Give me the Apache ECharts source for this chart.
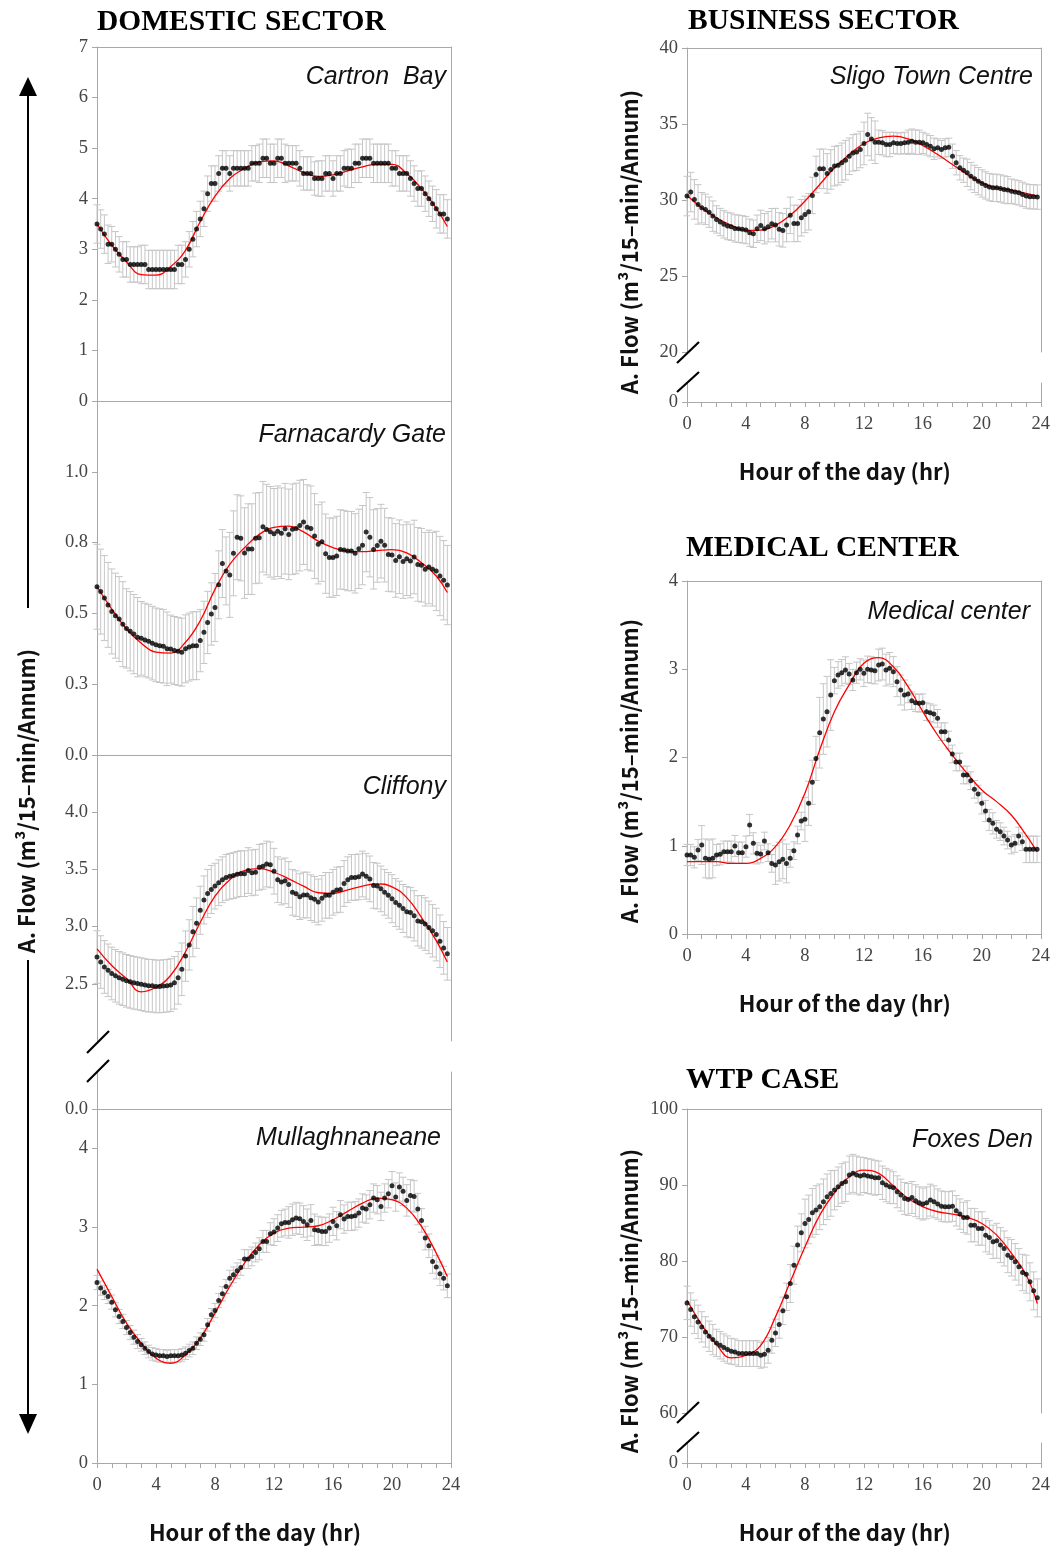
<!DOCTYPE html>
<html>
<head>
<meta charset="utf-8">
<title>Daily flow patterns</title>
<script src="https://cdn.jsdelivr.net/npm/echarts@6/dist/echarts.min.js"></script>
<style>
  html, body { margin: 0; padding: 0; background: #fff; }
  #chart { width: 1053px; height: 1549px; }
</style>
</head>
<body>
<div id="chart"></div>
<script>
// ---- data ----
var sectorTitles = ['DOMESTIC SECTOR', 'BUSINESS SECTOR', 'MEDICAL CENTER', 'WTP CASE'];
var siteNames = ['Cartron  Bay', 'Farnacardy Gate', 'Cliffony', 'Mullaghnaneane',
                 'Sligo Town Centre', 'Medical center', 'Foxes Den'];
var yName = 'A. Flow (m³/15–min/Annum)';
var xName = 'Hour of the day (hr)';

var hourTicks = [0, 4, 8, 12, 16, 20, 24];
var fitHours = [0,1,2,3,4,5,6,7,8,9,10,11,12,13,14,15,16,17,18,19,20,21,22,23,23.75];

// tick labels per panel
var cartronTicks = [0, 1, 2, 3, 4, 5, 6, 7];
var farnaTicks = [0, 0.25, 0.5, 0.75, 1.0];
var cliffTicks = [2.5, 3.0, 3.5, 4.0];
var breakZeroTicks = [0];
var mullaTicks = [0, 1, 2, 3, 4];
var sligoTicks = [20, 25, 30, 35, 40];
var medTicks = [0, 1, 2, 3, 4];
var foxTicks = [60, 70, 80, 90, 100];

// 15-min mean flows (96 per day), hourly error half-widths, fitted curve
var cartronMean = [3.5,3.4,3.3,3.1,3.1,3.0,2.9,2.8,2.8,2.7,
  2.7,2.7,2.7,2.7,2.6,2.6,2.6,2.6,2.6,2.6,
  2.6,2.6,2.7,2.7,2.8,3.0,3.2,3.4,3.6,3.8,
  4.1,4.3,4.3,4.5,4.6,4.6,4.5,4.6,4.6,4.6,
  4.6,4.6,4.7,4.7,4.7,4.8,4.8,4.7,4.7,4.8,
  4.8,4.7,4.7,4.7,4.7,4.6,4.5,4.5,4.5,4.4,
  4.4,4.4,4.5,4.5,4.4,4.5,4.5,4.6,4.6,4.6,
  4.7,4.7,4.8,4.8,4.8,4.7,4.7,4.7,4.7,4.7,
  4.6,4.6,4.5,4.5,4.5,4.4,4.3,4.2,4.2,4.1,
  4.0,3.9,3.8,3.7,3.7,3.6];
var cartronErr = [0.38,0.35,0.35,0.38,0.38,0.38,0.35,0.35,0.35,0.35,0.35,0.38,
  0.38,0.35,0.33,0.35,0.35,0.38,0.38,0.38,0.35,0.35,0.35,0.38];
var cartronFit = [3.5,3.08,2.75,2.5,2.49,2.66,2.98,3.55,4.05,4.4,4.6,4.73,4.75,
  4.65,4.52,4.44,4.47,4.55,4.63,4.68,4.68,4.5,4.2,3.81,3.45];

var farnaMean = [0.594,0.577,0.554,0.530,0.507,0.492,0.48,0.462,0.447,0.437,
  0.427,0.416,0.412,0.406,0.402,0.395,0.389,0.386,0.384,0.375,
  0.374,0.369,0.366,0.363,0.375,0.381,0.386,0.386,0.404,0.433,
  0.468,0.498,0.521,0.601,0.676,0.65,0.636,0.712,0.769,0.765,
  0.713,0.727,0.727,0.765,0.767,0.806,0.796,0.788,0.781,0.79,
  0.783,0.799,0.779,0.797,0.8,0.81,0.823,0.804,0.8,0.773,
  0.744,0.753,0.711,0.697,0.697,0.703,0.726,0.724,0.72,0.72,
  0.712,0.728,0.741,0.787,0.769,0.726,0.74,0.755,0.741,0.708,
  0.706,0.687,0.7,0.683,0.693,0.685,0.699,0.673,0.67,0.656,
  0.664,0.656,0.65,0.632,0.617,0.6];
var farnaErr = [0.15,0.15,0.14,0.13,0.13,0.12,0.12,0.11,0.12,0.15,0.16,0.16,
  0.16,0.16,0.15,0.14,0.14,0.14,0.14,0.13,0.13,0.13,0.13,0.14];
var farnaFit = [0.594,0.515,0.445,0.395,0.363,0.36,0.398,0.474,0.585,0.673,0.732,0.779,
  0.804,0.808,0.788,0.755,0.732,0.72,0.718,0.722,0.725,0.714,0.679,0.632,0.574];

var cliffMean = [2.734,2.69,2.647,2.618,2.59,2.57,2.552,2.54,2.526,2.517,
  2.509,2.503,2.497,2.489,2.483,2.483,2.477,2.477,2.48,2.483,
  2.489,2.509,2.552,2.627,2.742,2.84,2.956,3.03,3.143,3.233,
  3.29,3.325,3.354,3.383,3.41,3.43,3.44,3.446,3.457,3.463,
  3.463,3.49,3.47,3.475,3.518,3.527,3.547,3.54,3.484,3.41,
  3.39,3.40,3.368,3.30,3.288,3.262,3.276,3.276,3.253,3.238,
  3.215,3.247,3.273,3.273,3.30,3.32,3.325,3.377,3.41,3.43,
  3.43,3.435,3.46,3.44,3.417,3.36,3.354,3.33,3.30,3.273,
  3.244,3.21,3.187,3.158,3.13,3.123,3.094,3.05,3.042,3.022,
  2.993,2.964,2.93,2.872,2.814,2.762];
var cliffErr = [0.23,0.23,0.23,0.23,0.23,0.23,0.22,0.21,0.2,0.2,0.2,0.2,
  0.2,0.2,0.2,0.2,0.2,0.2,0.2,0.2,0.21,0.22,0.23,0.23];
var cliffFit = [2.806,2.66,2.546,2.43,2.47,2.575,2.78,3.036,3.267,3.41,3.49,3.507,
  3.475,3.417,3.354,3.296,3.29,3.32,3.354,3.374,3.348,3.253,3.08,2.878,2.69];

var mullaMean = [2.295,2.223,2.168,2.117,2.045,1.947,1.862,1.799,1.722,1.659,
  1.6,1.544,1.502,1.459,1.417,1.387,1.374,1.362,1.362,1.353,
  1.362,1.362,1.362,1.374,1.396,1.43,1.459,1.523,1.574,1.629,
  1.756,1.883,1.938,2.066,2.151,2.244,2.35,2.392,2.443,2.486,
  2.592,2.592,2.626,2.677,2.723,2.817,2.817,2.914,2.935,2.986,
  3.041,3.058,3.058,3.092,3.114,3.105,3.071,3.029,3.084,2.965,
  2.957,2.944,2.944,2.986,3.071,3.016,3.156,3.101,3.135,3.135,
  3.143,3.177,3.241,3.228,3.283,3.368,3.347,3.262,3.368,3.423,
  3.525,3.381,3.508,3.453,3.338,3.402,3.389,3.228,3.084,2.859,
  2.761,2.562,2.49,2.405,2.35,2.252];
var mullaErr = [0.09,0.09,0.09,0.08,0.08,0.08,0.08,0.08,0.09,0.1,0.12,0.14,
  0.17,0.2,0.2,0.18,0.18,0.18,0.18,0.18,0.18,0.2,0.15,0.15];
var mullaFit = [2.465,2.117,1.777,1.523,1.332,1.268,1.374,1.586,1.905,2.244,2.541,2.774,
  2.923,2.986,2.999,3.016,3.092,3.198,3.304,3.368,3.347,3.24,3.007,2.668,2.371];

var sligoMean = [30.26,30.52,30.04,29.71,29.49,29.38,29.2,28.94,28.72,28.55,
  28.4,28.29,28.24,28.13,28.11,28.07,28.02,27.85,27.78,28.11,
  28.33,28.11,28.24,28.44,28.35,28.07,28.0,28.35,28.99,28.46,
  28.46,28.83,29.05,29.23,30.3,31.68,32.05,32.05,31.75,32.01,
  32.23,32.29,32.45,32.62,32.88,33.1,33.15,33.32,33.72,34.31,
  34.02,33.8,33.8,33.76,33.65,33.65,33.76,33.72,33.72,33.76,
  33.8,33.87,33.8,33.8,33.76,33.65,33.54,33.37,33.43,33.32,
  33.43,33.47,32.88,32.45,32.12,31.96,31.79,31.57,31.39,31.24,
  31.09,30.96,30.85,30.8,30.8,30.76,30.69,30.65,30.58,30.52,
  30.47,30.37,30.26,30.21,30.21,30.19];
var sligoErr = [1.3,1.0,0.9,0.9,0.9,1.0,1.1,1.2,1.2,1.3,1.3,1.2,
  1.4,0.8,0.7,0.8,0.7,0.6,0.8,0.9,0.9,0.9,0.8,0.8];
var sligoFit = [30.3,29.49,28.83,28.33,28.0,28.02,28.33,28.99,29.93,31.02,32.12,32.99,
  33.72,34.09,34.2,34.02,33.58,32.99,32.34,31.68,31.13,30.8,30.65,30.43,30.26];

var medMean = [0.895,0.895,0.869,0.952,1.008,0.857,0.846,0.857,0.895,0.903,
  0.933,0.933,0.933,0.997,0.922,0.922,0.99,1.235,1.027,0.914,
  0.907,1.054,0.922,0.80,0.782,0.82,0.846,0.80,0.857,0.944,
  1.122,1.28,1.299,1.481,1.719,1.99,2.281,2.436,2.519,2.708,
  2.871,2.935,2.961,2.991,2.946,2.878,2.961,2.999,2.954,2.999,
  2.991,2.984,3.048,3.059,2.991,3.01,2.973,2.859,2.765,2.708,
  2.72,2.644,2.621,2.614,2.621,2.519,2.508,2.493,2.444,2.293,
  2.293,2.198,2.04,1.949,1.949,1.802,1.802,1.737,1.639,1.586,
  1.481,1.394,1.292,1.254,1.186,1.16,1.11,1.065,1.008,1.027,
  1.11,1.046,0.959,0.959,0.959,0.959];
var medErr = [0.12,0.22,0.12,0.12,0.12,0.1,0.22,0.1,0.25,0.4,0.15,0.12,
  0.15,0.18,0.17,0.1,0.1,0.1,0.1,0.1,0.12,0.1,0.1,0.15];
var medFit = [0.82,0.82,0.82,0.80,0.80,0.857,0.99,1.235,1.594,2.085,2.519,2.822,
  3.067,3.131,3.028,2.803,2.519,2.255,2.028,1.82,1.632,1.5,1.348,1.122,0.933];

var foxMean = [74.49,73.61,72.65,71.99,71.33,70.67,70.1,69.66,69.22,68.91,
  68.61,68.34,68.12,68.04,67.82,67.82,67.82,67.82,67.82,67.82,
  67.6,67.73,68.25,69.57,70.54,71.64,73.44,75.28,77.04,79.45,
  82.09,83.71,84.94,85.47,86.34,86.7,87.13,87.79,88.45,88.89,
  89.33,89.77,90.21,90.43,91.31,91.53,91.31,91.17,91.31,91.17,
  91.09,90.95,90.95,90.3,89.99,89.77,89.64,89.11,88.67,88.23,
  88.1,88.36,87.93,87.66,87.49,87.66,88.01,87.79,87.49,87.22,
  87.13,87.13,87.22,86.61,86.17,85.73,85.73,84.72,84.72,84.28,
  84.28,83.4,83.1,82.52,82.66,82.09,81.65,80.77,80.42,79.89,
  79.23,78.49,78.27,77.26,76.07,75.15];
var foxErr = [2.2,2.0,1.8,1.7,1.7,1.7,1.8,2.5,3.2,3.0,2.6,2.5,
  2.3,2.2,2.1,2.1,2.1,2.0,2.0,2.2,2.2,2.3,2.4,2.5];
var foxFit = [74.84,71.6,69.0,67.25,67.6,68.9,72.65,77.26,81.87,86.04,88.98,91.09,
  91.96,91.53,89.86,88.23,87.13,86.48,86.17,85.73,84.94,83.4,80.99,78.13,74.4];

// ---- layout ----
var FRAME = '#a8a8a8';
var LABEL = '#444';
var SERIF = '"Liberation Serif", "DejaVu Serif", serif';
var GOTHIC = '"Noto Sans CJK JP", "Noto Sans", sans-serif';

// each frame = one grid; broken axes use a second small grid for the "0" stub
var frames = [
  {box: [97, 47, 354, 354], min: 0, max: 7, ticks: cartronTicks, dec: 0,
   mean: cartronMean, err: cartronErr, fit: cartronFit, top: true, bottom: true},
  {box: [97, 401, 354, 354], min: 0, max: 1.25, ticks: farnaTicks, dec: 1,
   mean: farnaMean, err: farnaErr, fit: farnaFit, top: true, bottom: true},
  {box: [97, 755, 354, 286], min: 2.0, max: 4.5, ticks: cliffTicks, dec: 1,
   mean: cliffMean, err: cliffErr, fit: cliffFit, top: true, bottom: false},
  {box: [97, 1072, 354, 37], min: 0, max: 1, ticks: breakZeroTicks, dec: 1, top: false, bottom: true},
  {box: [97, 1109, 354, 354], min: 0, max: 4.5, ticks: mullaTicks, dec: 0,
   mean: mullaMean, err: mullaErr, fit: mullaFit, top: true, bottom: true, xlab: true},
  {box: [687, 48, 354, 304], min: 20, max: 40, ticks: sligoTicks, dec: 0,
   mean: sligoMean, err: sligoErr, fit: sligoFit, top: true, bottom: false},
  {box: [687, 383, 354, 19], min: 0, max: 1, ticks: breakZeroTicks, dec: 0, top: false, bottom: true, xlab: true},
  {box: [687, 581, 354, 353], min: 0, max: 4, ticks: medTicks, dec: 0,
   mean: medMean, err: medErr, fit: medFit, top: true, bottom: true, xlab: true},
  {box: [687, 1109, 354, 304], min: 60, max: 100, ticks: foxTicks, dec: 0,
   mean: foxMean, err: foxErr, fit: foxFit, top: true, bottom: false},
  {box: [687, 1443, 354, 20], min: 0, max: 1, ticks: breakZeroTicks, dec: 0, top: false, bottom: true, xlab: true}
];

var grids = [], xAxes = [], yAxes = [], series = [];

function errRender(params, api) {
  var x = api.value(0);
  var pLo = api.coord([x, api.value(1)]);
  var pHi = api.coord([x, api.value(2)]);
  var cap = 3.5;
  var st = {stroke: '#c6c6c6', lineWidth: 1};
  return {type: 'group', children: [
    {type: 'line', shape: {x1: pLo[0], y1: pLo[1], x2: pHi[0], y2: pHi[1]}, style: st},
    {type: 'line', shape: {x1: pHi[0] - cap, y1: pHi[1], x2: pHi[0] + cap, y2: pHi[1]}, style: st},
    {type: 'line', shape: {x1: pLo[0] - cap, y1: pLo[1], x2: pLo[0] + cap, y2: pLo[1]}, style: st}
  ]};
}

frames.forEach(function (f, k) {
  grids.push({left: f.box[0], top: f.box[1], width: f.box[2], height: f.box[3]});
  var lineStyle = {color: FRAME, width: 1};
  xAxes.push({
    gridIndex: k, type: 'value', min: 0, max: 24, interval: 4, position: 'bottom',
    axisLine: {show: f.bottom, onZero: false, lineStyle: lineStyle},
    axisTick: {show: !!f.xlab, length: 5, lineStyle: lineStyle, customValues: hourTicks},
    minorTick: {show: !!f.xlab, splitNumber: 4, length: 5, lineStyle: lineStyle},
    axisLabel: {show: !!f.xlab, margin: 13, color: LABEL, fontFamily: SERIF, fontSize: 18.5,
                customValues: hourTicks},
    splitLine: {show: false},
    name: f.xlab ? xName : '', nameLocation: 'middle', nameGap: 59,
    nameTextStyle: {fontFamily: GOTHIC, fontWeight: 'bold', fontSize: 22, color: '#111',
                    padding: [0, 38, 0, 0]}
  });
  xAxes.push({
    gridIndex: k, type: 'value', min: 0, max: 24, position: 'top',
    axisLine: {show: f.top, onZero: false, lineStyle: lineStyle},
    axisTick: {show: false}, axisLabel: {show: false}, splitLine: {show: false}
  });
  yAxes.push({
    gridIndex: k, type: 'value', min: f.min, max: f.max, position: 'left',
    axisLine: {show: true, onZero: false, lineStyle: lineStyle},
    axisTick: {show: true, length: 5, lineStyle: lineStyle, customValues: f.ticks},
    axisLabel: {margin: 9, color: LABEL, fontFamily: SERIF, fontSize: 18.5, customValues: f.ticks,
                formatter: function (v) { return Number(v).toFixed(f.dec); }},
    splitLine: {show: false}
  });
  yAxes.push({
    gridIndex: k, type: 'value', min: f.min, max: f.max, position: 'right',
    axisLine: {show: true, onZero: false, lineStyle: lineStyle},
    axisTick: {show: false}, axisLabel: {show: false}, splitLine: {show: false}
  });

  if (!f.mean) return;
  var xi = 2 * k, yi = 2 * k;
  var bars = [], dots = [], fit = [];
  f.mean.forEach(function (v, i) {
    var h = i * 0.25;
    var e = f.err[Math.floor(i / 4)];
    bars.push([h, v - e, v + e]);
    dots.push([h, v]);
  });
  f.fit.forEach(function (v, i) { fit.push([fitHours[i], v]); });
  series.push({type: 'custom', xAxisIndex: xi, yAxisIndex: yi, renderItem: errRender,
               encode: {x: 0, y: [1, 2]}, data: bars, silent: true, z: 1});
  series.push({type: 'line', xAxisIndex: xi, yAxisIndex: yi, data: fit, smooth: 0.45,
               showSymbol: false, lineStyle: {color: '#ff0000', width: 1.3}, z: 2, silent: true});
  series.push({type: 'scatter', xAxisIndex: xi, yAxisIndex: yi, data: dots, symbolSize: 5,
               itemStyle: {color: '#000'}, z: 3, silent: true});
});

// titles: sector headings and site names
var titles = [
  {text: sectorTitles[0], left: 97, top: 7},
  {text: sectorTitles[1], left: 688, top: 6},
  {text: sectorTitles[2], left: 686, top: 533},
  {text: sectorTitles[3], left: 686, top: 1065}
].map(function (t) {
  t.padding = 0;
  t.textStyle = {fontFamily: SERIF, fontWeight: 'bold', fontSize: 29.5, color: '#000'};
  return t;
});
var sitePos = [[607, 65], [607, 423], [607, 775], [612, 1126], [20, 65], [23, 600], [20, 1128]];
siteNames.forEach(function (s, i) {
  titles.push({text: s, right: sitePos[i][0], top: sitePos[i][1], padding: 0,
    textStyle: {fontFamily: '"Liberation Sans", Arial, sans-serif', fontStyle: 'italic',
                fontWeight: 'normal', fontSize: 25, color: '#111'}});
});

// decorations: y-axis captions, long arrow, axis-break marks
var yFont = 'bold 22px "Noto Sans CJK JP", "Noto Sans", sans-serif';
function yCaption(x, y) {
  return {type: 'text', x: x, y: y, rotation: Math.PI / 2, z: 10,
          style: {text: yName, font: yFont, fill: '#111', textAlign: 'center', textVerticalAlign: 'middle'}};
}
function seg(x1, y1, x2, y2, w) {
  return {type: 'line', z: 10, shape: {x1: x1, y1: y1, x2: x2, y2: y2},
          style: {stroke: '#000', lineWidth: w}};
}
var graphics = [
  yCaption(27, 801), yCaption(630, 242), yCaption(630, 771), yCaption(630, 1301),
  seg(28, 94, 28, 608, 2), seg(28, 960, 28, 1416, 2),
  {type: 'polygon', z: 10, shape: {points: [[28, 77], [19, 96], [37, 96]]}, style: {fill: '#000'}},
  {type: 'polygon', z: 10, shape: {points: [[19, 1414], [37, 1414], [28, 1434]]}, style: {fill: '#000'}},
  seg(87, 1053, 109, 1031, 2.2), seg(87, 1082, 109, 1060, 2.2),
  seg(677, 363, 699, 342, 2.2), seg(677, 392, 699, 372, 2.2),
  seg(677, 1423, 699, 1402, 2.2), seg(677, 1452, 699, 1432, 2.2)
];

var myChart = echarts.init(document.getElementById('chart'));
myChart.setOption({
  animation: false,
  backgroundColor: '#fff',
  title: titles,
  grid: grids,
  xAxis: xAxes,
  yAxis: yAxes,
  graphic: graphics,
  series: series
});
window.addEventListener('resize', function () { myChart.resize(); });
</script>
</body>
</html>
